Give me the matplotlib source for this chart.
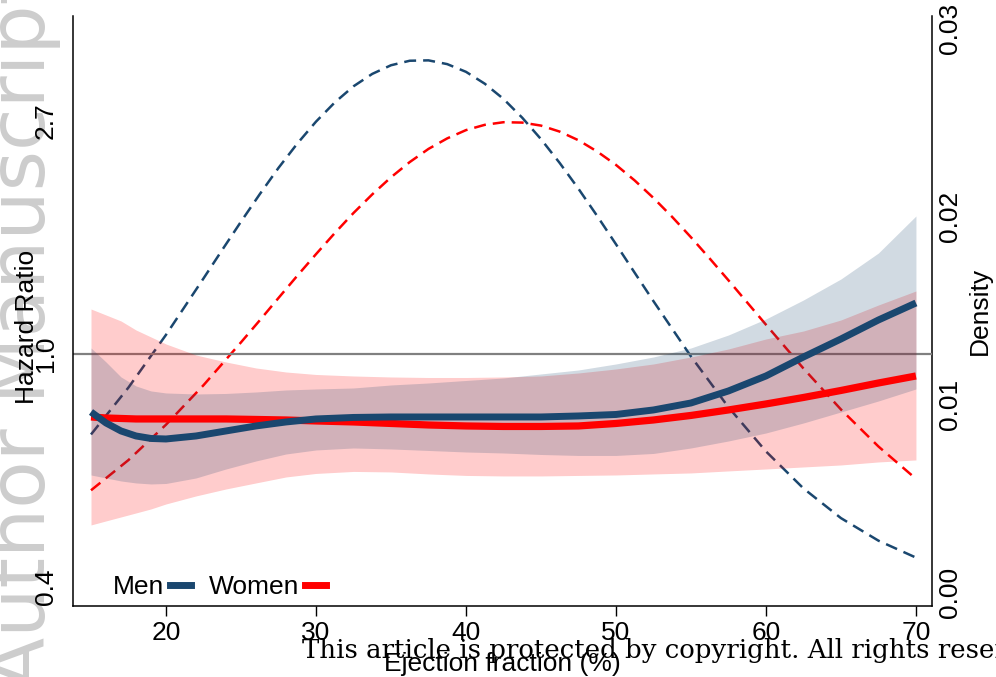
import matplotlib
matplotlib.use("Agg")
import matplotlib.pyplot as plt
from matplotlib.lines import Line2D
from matplotlib.ticker import NullLocator, FixedLocator, FixedFormatter
import numpy as np

# ---------------- data ----------------
ef = [15, 16, 17, 18, 19, 20, 22, 24, 26, 28, 30, 32.5, 35, 37.5, 40, 42.5,
      45, 47.5, 50, 52.5, 55, 57.5, 60, 62.5, 65, 67.5, 70]

men_hr = [0.7796, 0.7437, 0.7186, 0.7033, 0.6958, 0.6943, 0.7033, 0.7186, 0.7342,
          0.7469, 0.7566, 0.7615, 0.7631, 0.7631, 0.7631, 0.7631, 0.7631, 0.7664,
          0.7713, 0.7864, 0.8103, 0.8532, 0.9099, 0.9872, 1.0665, 1.1571, 1.2447]
men_hi = [1.0261, 0.9662, 0.9060, 0.8717, 0.8532, 0.8459, 0.8422, 0.8441, 0.8495,
          0.8568, 0.8605, 0.8642, 0.8754, 0.8829, 0.8925, 0.9021, 0.9178, 0.9336,
          0.9580, 0.9872, 1.0261, 1.0849, 1.1621, 1.2608, 1.3798, 1.5426, 1.8081]
men_lo = [0.5949, 0.5873, 0.5798, 0.5749, 0.5724, 0.5736, 0.5873, 0.6104, 0.6318,
          0.6510, 0.6623, 0.6680, 0.6652, 0.6609, 0.6566, 0.6538, 0.6496, 0.6469,
          0.6469, 0.6525, 0.6680, 0.6884, 0.7124, 0.7437, 0.7796, 0.8173, 0.8605]

women_hr = [0.7631, 0.7598, 0.7582, 0.7566, 0.7566, 0.7566, 0.7566, 0.7566, 0.7550,
            0.7533, 0.7501, 0.7469, 0.7421, 0.7373, 0.7342, 0.7326, 0.7326, 0.7342,
            0.7421, 0.7533, 0.7681, 0.7864, 0.8069, 0.8297, 0.8550, 0.8829, 0.9099]
women_hi = [1.2130, 1.1822, 1.1522, 1.1085, 1.0757, 1.0438, 0.9957, 0.9662, 0.9417,
            0.9256, 0.9158, 0.9099, 0.9060, 0.9040, 0.9040, 0.9060, 0.9099, 0.9217,
            0.9377, 0.9580, 0.9872, 1.0217, 1.0665, 1.1037, 1.1571, 1.2340, 1.3105]
women_lo = [0.4800, 0.4884, 0.4968, 0.5054, 0.5142, 0.5253, 0.5437, 0.5602, 0.5749,
            0.5898, 0.5988, 0.6040, 0.6027, 0.5975, 0.5937, 0.5924, 0.5924, 0.5937,
            0.5949, 0.5975, 0.6001, 0.6053, 0.6104, 0.6157, 0.6210, 0.6291, 0.6345]

men_dens_x = [15, 17.5, 20, 22.5, 23.75, 25, 26.25, 27.5, 28.75, 30, 31.25, 32.5,
              33.75, 35, 36.25, 37.5, 38.75, 40, 41.25, 42.5, 43.75, 45, 46.25,
              47.5, 48.75, 50, 51.25, 52.5, 55, 57.5, 60, 62.5, 65, 67.5, 70]
men_dens = [0.00838, 0.01088, 0.01368, 0.01668, 0.01820, 0.01970, 0.02116, 0.02256,
            0.02385, 0.02502, 0.02604, 0.02690, 0.02756, 0.02802, 0.02826, 0.02828,
            0.02808, 0.02767, 0.02704, 0.02623, 0.02523, 0.02409, 0.02282, 0.02145,
            0.02000, 0.01850, 0.01698, 0.01547, 0.01253, 0.00983, 0.00748, 0.00551,
            0.00393, 0.00273, 0.00183]

women_dens_x = [15, 17.5, 20, 22.5, 25, 26.25, 27.5, 28.75, 30, 31.25, 32.5, 33.75,
                35, 36.25, 37.5, 38.75, 40, 41.25, 42.5, 43.75, 45, 46.25, 47.5,
                48.75, 50, 51.25, 52.5, 53.75, 55, 56.25, 57.5, 58.75, 60, 62.5,
                65, 67.5, 70]
women_dens = [0.00541, 0.00702, 0.00890, 0.01100, 0.01328, 0.01445, 0.01564, 0.01682,
              0.01797, 0.01909, 0.02016, 0.02115, 0.02206, 0.02287, 0.02357, 0.02413,
              0.02457, 0.02485, 0.02499, 0.02497, 0.02481, 0.02449, 0.02403, 0.02343,
              0.02272, 0.02189, 0.02096, 0.01995, 0.01887, 0.01774, 0.01658, 0.01540,
              0.01422, 0.01189, 0.00971, 0.00774, 0.00602]

x_ticks = [20, 30, 40, 50, 60, 70]
hr_ticks = [np.exp(-1), 1.0, np.exp(1)]
hr_tick_labels = ["0.4", "1.0", "2.7"]
dens_ticks = [0.0, 0.01, 0.02, 0.03]
dens_tick_labels = ["0.00", "0.01", "0.02", "0.03"]

NAVY = "#1A476F"
RED = "#FF0000"
FS = 19

plt.rcParams["font.family"] = ["Liberation Sans", "DejaVu Sans"]

fig = plt.figure(figsize=(9.96, 6.77), dpi=100)
fig.patch.set_facecolor("white")

W, H = 996, 677
ax = fig.add_axes([73 / W, (H - 606) / H, (932 - 73) / W, (606 - 16) / H])
ax2 = ax.twinx()
ax.set_zorder(ax2.get_zorder() + 1)
ax.patch.set_visible(False)

# density curves (right axis, drawn underneath)
ax2.plot(men_dens_x, men_dens, color=NAVY, lw=1.8, dashes=(4.8, 2.8))
ax2.plot(women_dens_x, women_dens, color=RED, lw=1.8, dashes=(4.8, 2.8))

# reference line, bands, HR curves
ax.axhline(1.0, color="#808080", lw=1.6, zorder=1)
ax.fill_between(ef, women_lo, women_hi, color=RED, alpha=0.2, lw=0, zorder=2)
ax.fill_between(ef, men_lo, men_hi, color=NAVY, alpha=0.2, lw=0, zorder=3)
ax.plot(ef, women_hr, color=RED, lw=5.2, zorder=4, solid_capstyle="butt")
ax.plot(ef, men_hr, color=NAVY, lw=5.0, zorder=5, solid_capstyle="butt")

# axes scales / limits
ax.set_xlim(13.8, 71.07)
ax.set_yscale("log")
ax.set_ylim(0.339, 4.266)
ax2.set_ylim(-0.000745, 0.03064)

ax.yaxis.set_major_locator(FixedLocator(hr_ticks))
ax.yaxis.set_major_formatter(FixedFormatter(hr_tick_labels))
ax.yaxis.set_minor_locator(NullLocator())
ax.set_xticks(x_ticks)
ax.set_xticklabels([str(v) for v in x_ticks], fontsize=FS)
for t in ax.get_yticklabels():
    t.set_rotation(90)
    t.set_va("center")
    t.set_fontsize(FS)
ax2.set_yticks(dens_ticks)
ax2.set_yticklabels(dens_tick_labels, rotation=90, va="center", fontsize=FS)

ax.tick_params(axis="x", direction="out", length=7, width=1, pad=4, colors="black")
ax.tick_params(axis="y", length=0, pad=11)
ax2.tick_params(axis="y", length=0, pad=4)

for a in (ax, ax2):
    a.spines["top"].set_visible(False)
    for s in a.spines.values():
        s.set_linewidth(1.1)
ax.spines["right"].set_visible(False)
ax2.spines["left"].set_visible(False)
ax2.spines["bottom"].set_visible(False)

ax.set_ylabel("Hazard Ratio", fontsize=FS)
ax.yaxis.set_label_coords(-0.040, 0.473)
ax2.set_ylabel("Density", fontsize=FS)
ax2.yaxis.set_label_coords(1.042, 0.5)
ax.set_xlabel("Ejection fraction (%)", fontsize=FS)
ax.xaxis.set_label_coords(0.5, -0.078)

handles = [Line2D([], [], color=NAVY, lw=5), Line2D([], [], color=RED, lw=5)]
leg = ax.legend(handles, ["Men", "Women"], loc="lower left",
                bbox_to_anchor=(0.0466, 0.012), ncol=2, frameon=False,
                markerfirst=False, handlelength=0.8, handletextpad=0.2,
                columnspacing=0.7, borderpad=0, borderaxespad=0, fontsize=FS)

# watermark and copyright overlay
fig.text(45 / W, (H - 690) / H, "Author Manuscript", rotation=90,
         rotation_mode="anchor", ha="left", va="baseline", fontsize=56,
         color="#cdcdcd", family="DejaVu Sans", zorder=-1)
fig.text(302 / W, (H - 658) / H,
         "This article is protected by copyright. All rights reserved.",
         ha="left", va="baseline", fontsize=18.7, family="DejaVu Serif",
         color="black", zorder=10)

fig.savefig("out.png", dpi=100, facecolor="white")
